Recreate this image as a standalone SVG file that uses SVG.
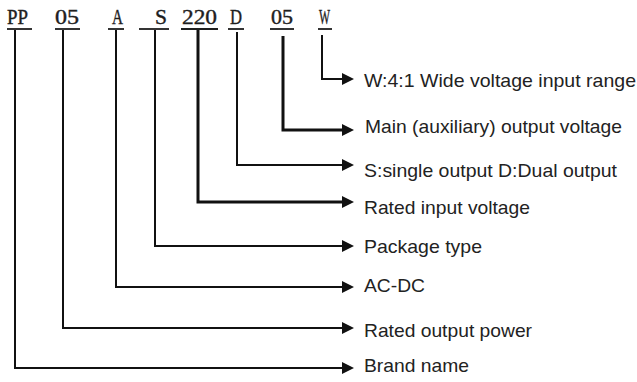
<svg xmlns="http://www.w3.org/2000/svg" width="637" height="382" viewBox="0 0 637 382">
  <style>
    .code { font-family: "Liberation Serif", "DejaVu Serif", serif; font-size: 21px; fill: #1e1e1e; stroke: #1e1e1e; stroke-width: 0.4; }
    .desc { font-family: "Liberation Sans", Arial, sans-serif; font-size: 18.5px; fill: #222; }
    .ul { stroke: #1e1e1e; stroke-width: 1.8; fill: none; }
    .wire { stroke: #111; stroke-width: 2; fill: none; marker-end: url(#arr); }
    .thick { stroke-width: 3; }
  </style>
  <defs>
    <marker id="arr" viewBox="0 0 12 12" refX="0" refY="6" markerWidth="12" markerHeight="12" markerUnits="userSpaceOnUse" orient="auto">
      <path d="M0,0 L12,6 L0,12 z" fill="#111"/>
    </marker>
  </defs>
  <rect width="637" height="382" fill="#fff"/>

  <g id="code-PP"><text class="code" x="7" y="24" textLength="21" lengthAdjust="spacingAndGlyphs">PP</text><line class="ul" x1="7" y1="29" x2="32" y2="29"/></g>
  <g id="code-05a"><text class="code" x="55" y="24" textLength="24" lengthAdjust="spacingAndGlyphs">05</text><line class="ul" x1="55" y1="29" x2="80" y2="29"/></g>
  <g id="code-A"><text class="code" x="112" y="24" textLength="11" lengthAdjust="spacingAndGlyphs">A</text><line class="ul" x1="108" y1="29" x2="124" y2="29"/></g>
  <g id="code-S"><text class="code" x="155" y="24" textLength="12" lengthAdjust="spacingAndGlyphs">S</text><line class="ul" x1="139" y1="29" x2="169" y2="29"/></g>
  <g id="code-220"><text class="code" x="182" y="24" textLength="35" lengthAdjust="spacingAndGlyphs">220</text><line class="ul" x1="181" y1="29" x2="218" y2="29"/></g>
  <g id="code-D"><text class="code" x="230" y="24" textLength="12" lengthAdjust="spacingAndGlyphs">D</text><line class="ul" x1="228" y1="29" x2="244" y2="29"/></g>
  <g id="code-05b"><text class="code" x="271" y="24" textLength="22" lengthAdjust="spacingAndGlyphs">05</text><line class="ul" x1="270" y1="29" x2="294" y2="29"/></g>
  <g id="code-W"><text class="code" x="319" y="24" textLength="11" lengthAdjust="spacingAndGlyphs">W</text><line class="ul" x1="318" y1="29" x2="332" y2="29"/></g>

  <g id="connectors">
    <path class="wire" d="M322,35 V79 H342"/>
    <path class="wire thick" d="M283,36 V130 H342"/>
    <path class="wire" d="M237,32 V165 H342"/>
    <path class="wire thick" d="M198,30 V202 H342"/>
    <path class="wire" d="M155,30 V246 H342"/>
    <path class="wire" d="M116,30 V287 H342"/>
    <path class="wire" d="M63,30 V328 H342"/>
    <path class="wire" d="M15,30 V368 H342"/>
  </g>

  <g id="desc-W"><text class="desc" x="364" y="87" textLength="272" lengthAdjust="spacingAndGlyphs">W:4:1 Wide voltage input range</text></g>
  <g id="desc-main"><text class="desc" x="365" y="133" textLength="257" lengthAdjust="spacingAndGlyphs">Main (auxiliary) output voltage</text></g>
  <g id="desc-output"><text class="desc" x="364" y="177" textLength="253" lengthAdjust="spacingAndGlyphs">S:single output D:Dual output</text></g>
  <g id="desc-input"><text class="desc" x="364" y="214" textLength="166" lengthAdjust="spacingAndGlyphs">Rated input voltage</text></g>
  <g id="desc-package"><text class="desc" x="364" y="253" textLength="118" lengthAdjust="spacingAndGlyphs">Package type</text></g>
  <g id="desc-acdc"><text class="desc" x="364" y="292" textLength="61" lengthAdjust="spacingAndGlyphs">AC-DC</text></g>
  <g id="desc-power"><text class="desc" x="364" y="337" textLength="168" lengthAdjust="spacingAndGlyphs">Rated output power</text></g>
  <g id="desc-brand"><text class="desc" x="364" y="372" textLength="105" lengthAdjust="spacingAndGlyphs">Brand name</text></g>
</svg>
